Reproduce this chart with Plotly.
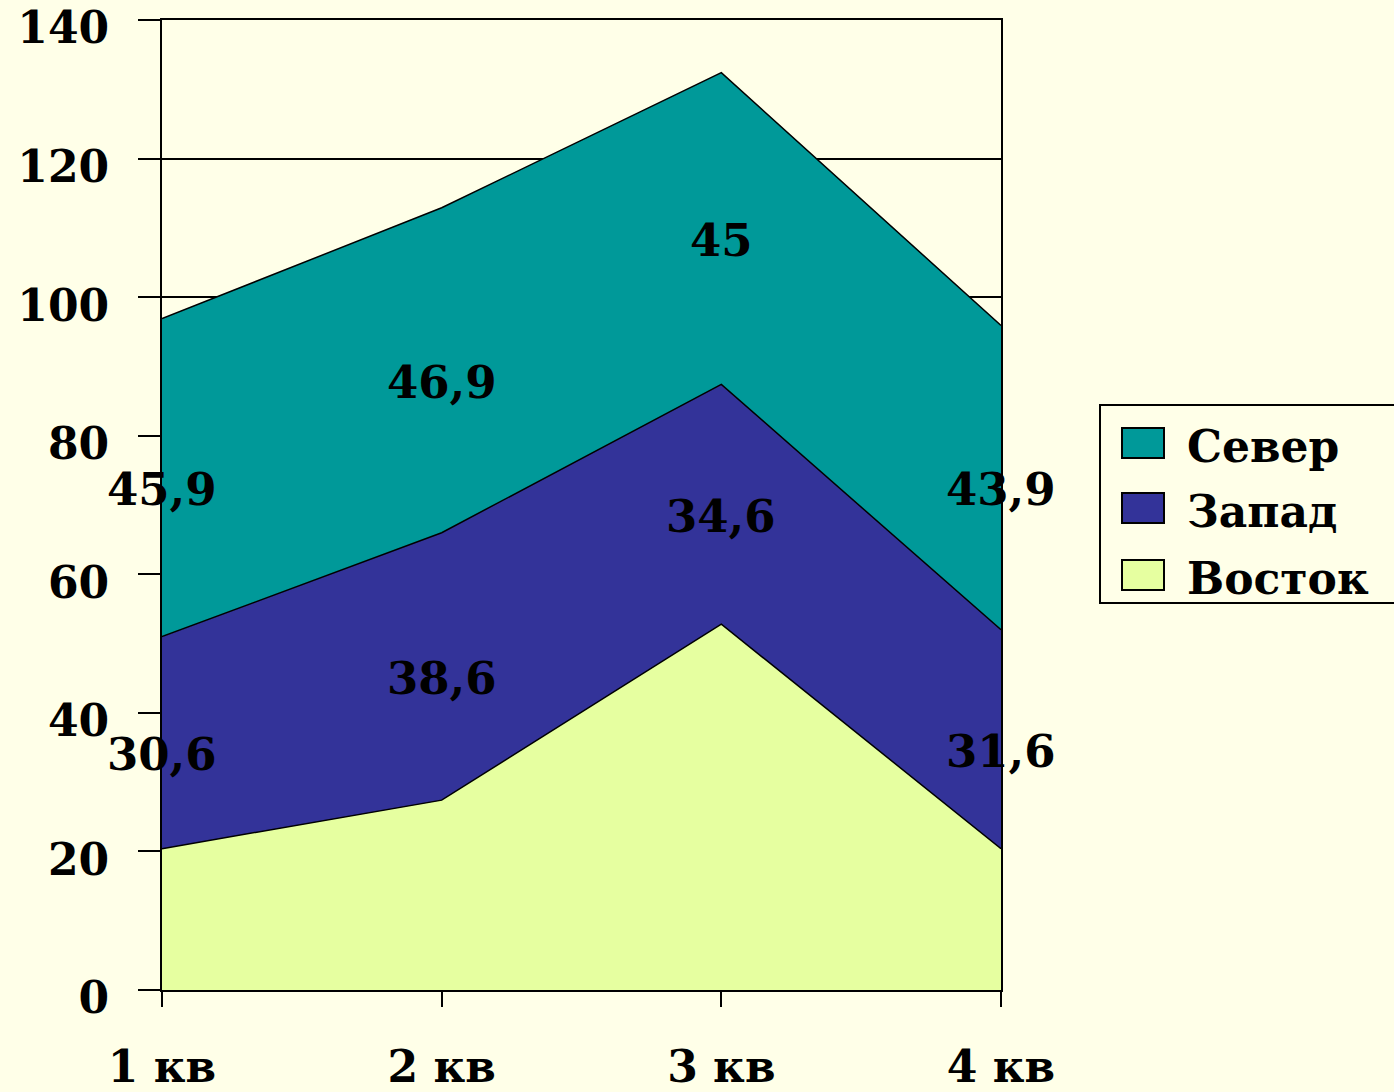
import plotly.graph_objects as go

quarters = ["1 кв", "2 кв", "3 кв", "4 кв"]
vostok = [20.4, 27.4, 52.8, 20.4]
zapad = [30.6, 38.6, 34.6, 31.6]
sever = [45.9, 46.9, 45.0, 43.9]
y_ticks = [0, 20, 40, 60, 80, 100, 120, 140]
series_names = ["Восток", "Запад", "Север"]
series_colors = ["#E6FFA0", "#333399", "#009999"]

BG = "#FFFFE8"
FONT = "DejaVu Serif"
W, H = 1394, 1092
L, R, T, B = 162, 393, 20, 102
xs = list(range(len(quarters)))

def px(xp):
    return (xp - L) / (W - L - R)

def py(yp):
    return (H - B - yp) / (H - T - B)

fig = go.Figure()
for name, vals, col in zip(series_names, [vostok, zapad, sever], series_colors):
    fig.add_trace(go.Scatter(
        x=xs, y=vals, name=name, stackgroup="one", mode="lines",
        line=dict(color="black", width=1.5), fillcolor=col, hoverinfo="skip",
        showlegend=False))

def fmt(v):
    s = ("%.1f" % v).rstrip("0").rstrip(".")
    return s.replace(".", ",")

lblfont = dict(family=FONT, size=45, color="black")
ann = []
for i in xs:
    ann.append(dict(x=i, y=vostok[i] + zapad[i] / 2, text="<b>" + fmt(zapad[i]) + "</b>",
                    showarrow=False, xref="x", yref="y", yshift=-12, font=lblfont))
    ann.append(dict(x=i, y=vostok[i] + zapad[i] + sever[i] / 2, text="<b>" + fmt(sever[i]) + "</b>",
                    showarrow=False, xref="x", yref="y", yshift=-12, font=lblfont))

# custom legend (Север, Запад, Восток top to bottom)
shapes = [dict(type="rect", xref="paper", yref="paper",
               x0=px(1100), x1=px(1420), y0=py(603), y1=py(405),
               line=dict(color="black", width=2), fillcolor=BG, layer="above")]
leg_rows = [(443, 2), (508, 1), (575, 0)]
for yc, idx in leg_rows:
    shapes.append(dict(type="rect", xref="paper", yref="paper",
                       x0=px(1122), x1=px(1164), y0=py(yc + 15), y1=py(yc - 15),
                       line=dict(color="black", width=2), fillcolor=series_colors[idx], layer="above"))
    ann.append(dict(x=px(1185), y=py(yc), xref="paper", yref="paper", xanchor="left", yanchor="middle",
                    text="<b>" + series_names[idx] + "</b>", showarrow=False, yshift=-3,
                    font=dict(family=FONT, size=44, color="black")))

fig.update_layout(
    width=W, height=H,
    paper_bgcolor=BG, plot_bgcolor=BG,
    margin=dict(l=L, r=R, t=T, b=B, autoexpand=False),
    font=dict(family=FONT, size=44, color="black"),
    annotations=ann, shapes=shapes,
    showlegend=False,
    xaxis=dict(
        range=[0, 3], tickvals=xs, ticktext=["<b>" + q + "</b>" for q in quarters],
        showgrid=False, zeroline=False, showline=True, mirror=True, linecolor="black", linewidth=2,
        ticks="outside", ticklen=15, tickwidth=2, tickcolor="black",
        ticklabelstandoff=22, automargin=False, ticklabeloverflow="allow",
        tickfont=dict(family=FONT, size=44, color="black"),
    ),
    yaxis=dict(
        range=[0, 140], tickvals=y_ticks, ticktext=["<b>%d</b>" % v for v in y_ticks],
        showgrid=True, gridcolor="black", gridwidth=2, zeroline=False,
        showline=True, mirror=True, linecolor="black", linewidth=2,
        ticks="outside", ticklen=22, tickwidth=2, tickcolor="black",
        ticklabelstandoff=20, ticklabelshift=8, automargin=False, ticklabeloverflow="allow",
        tickfont=dict(family=FONT, size=44, color="black"),
    ),
)

fig.write_html("out.html", config={"displayModeBar": False},
               post_script="document.body.style.margin='0';document.body.style.background='" + BG + "';")
